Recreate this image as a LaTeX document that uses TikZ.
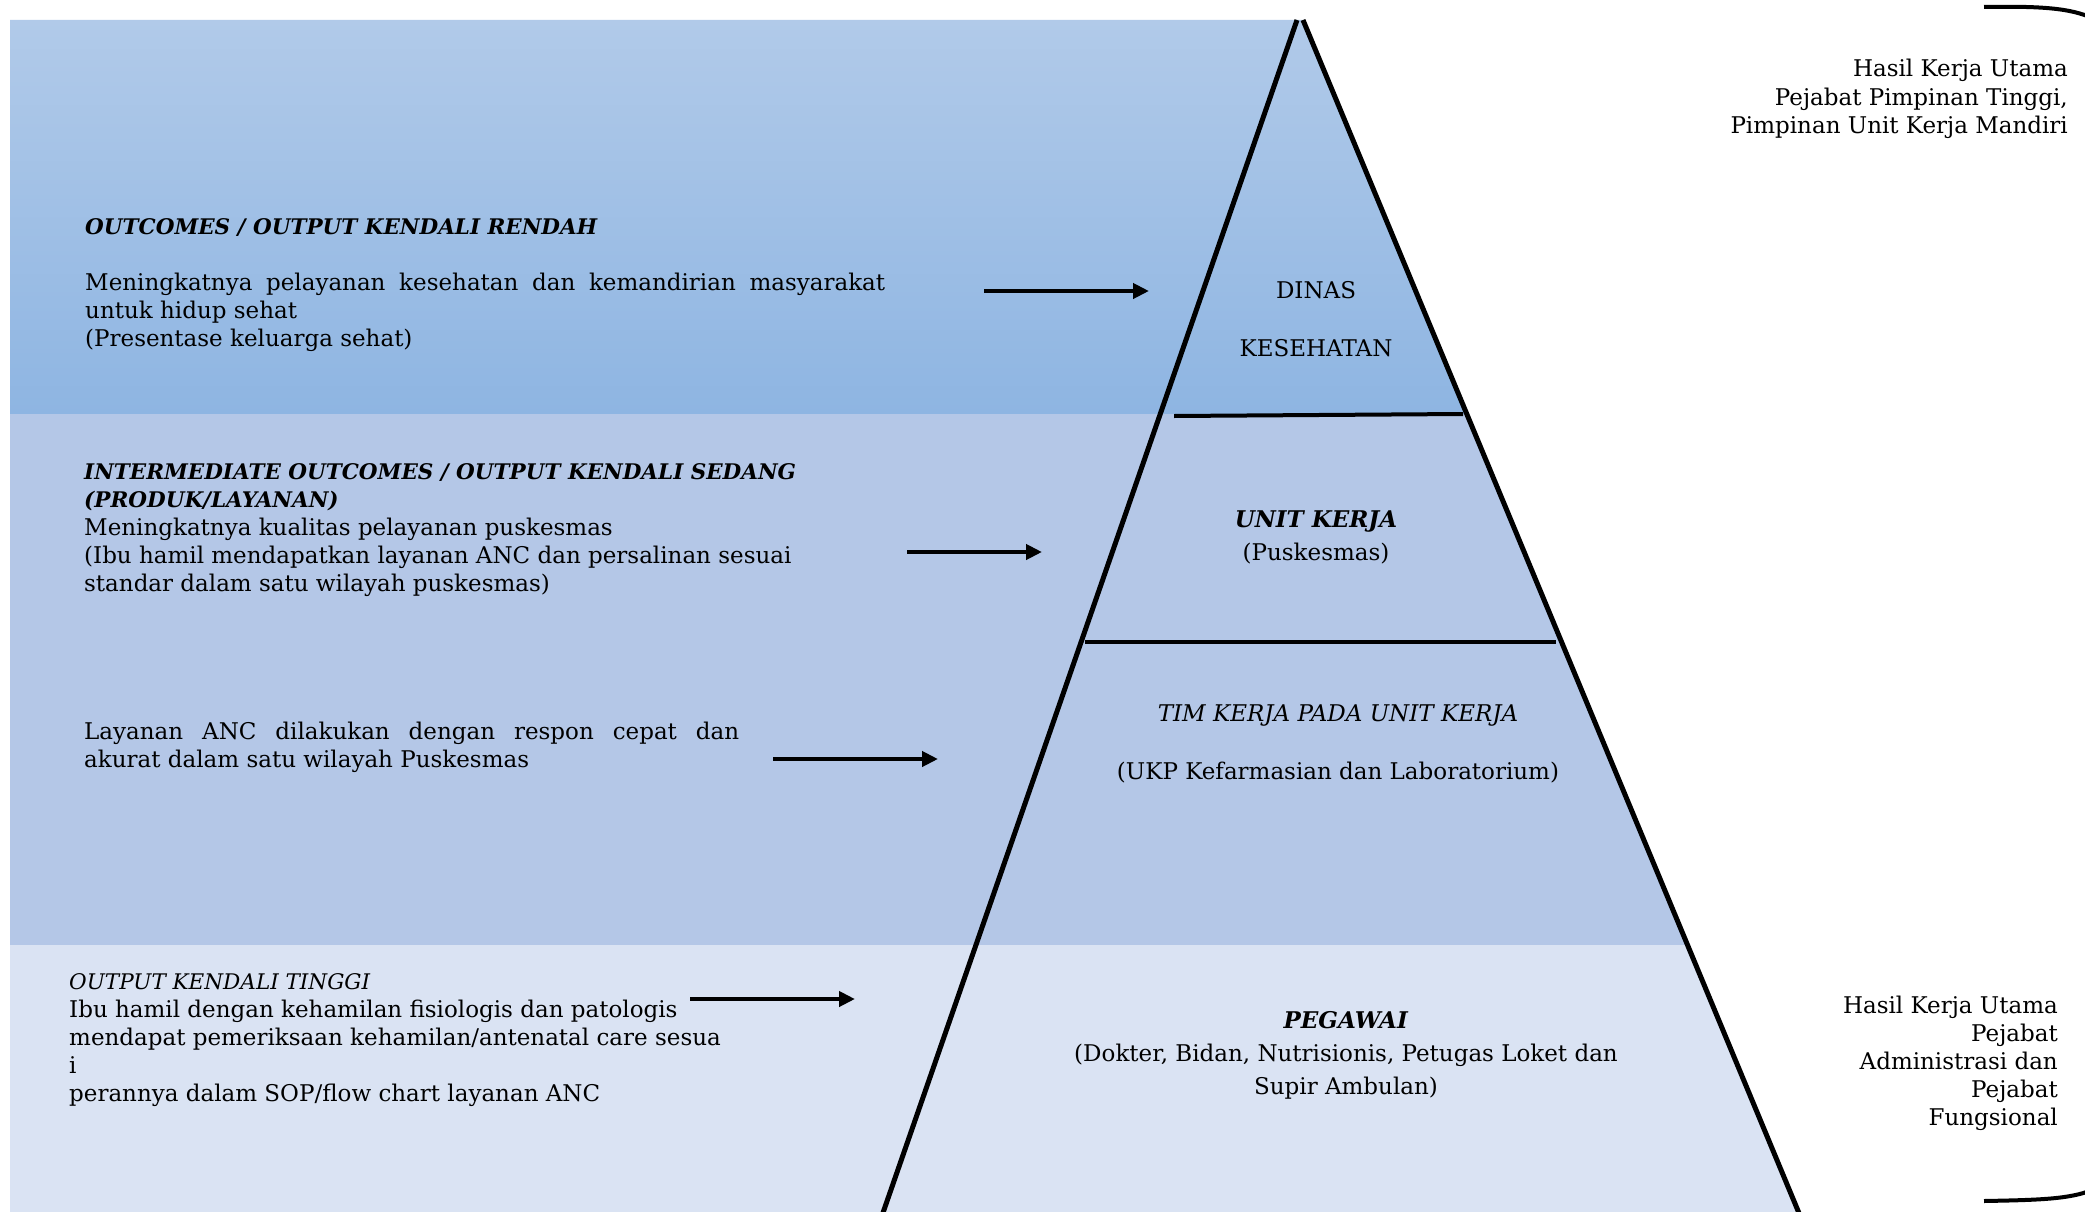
\documentclass[tikz,border=0pt]{standalone}
\usepackage{fontspec}
\setmainfont{DejaVu Serif}
\usetikzlibrary{arrows.meta}
\definecolor{bandtop}{HTML}{B1CAE9}
\definecolor{bandtopb}{HTML}{8EB5E2}
\definecolor{bandmid}{HTML}{B4C7E7}
\definecolor{bandlow}{HTML}{DAE3F3}
\newcommand{\mytitle}[1]{{\fontsize{21.5}{28}\selectfont\textbf{\textit{#1}}}}
\begin{document}
\begin{tikzpicture}[x=1pt,y=-1pt,
  txt/.style={inner sep=0pt, anchor=base west, align=left, font=\fontsize{23}{28}\selectfont},
  ctr/.style={inner sep=0pt, anchor=base, align=center, font=\fontsize{23}{33}\selectfont},
  rtxt/.style={inner sep=0pt, anchor=base east, align=right, font=\fontsize{23}{28.5}\selectfont},
  arr/.style={line width=4pt, -{Triangle[length=16pt,width=15pt]}},
  pyredge/.style={line width=5pt},
  divider/.style={line width=4pt}]
\useasboundingbox (0,0) rectangle (2085,1212);
\clip (0,0) rectangle (2085,1212);
% bands
\shade[top color=bandtop, bottom color=bandtopb] (10,20) -- (1303,20) -- (1466,414) -- (10,414) -- cycle;
\fill[bandmid] (10,414) -- (1466,414) -- (1687,945) -- (10,945) -- cycle;
\fill[bandlow] (10,945) -- (1687,945) -- (1810,1240) -- (10,1240) -- cycle;
% pyramid
\coordinate (apexL) at (1297,20);
\coordinate (apexR) at (1303,20);
\coordinate (baseL) at (877,1230);
\coordinate (baseR) at (1806,1230);
\draw[pyredge] (apexL) -- (baseL);
\draw[pyredge] (apexR) -- (baseR);
\coordinate (d1a) at (1174,416);
\coordinate (d1b) at (1463,414);
\coordinate (d2a) at (1085,642);
\coordinate (d2b) at (1556,642);
\draw[divider] (d1a) -- (d1b);
\draw[divider] (d2a) -- (d2b);
% left texts (anchored at the baseline of the last line)
\node[txt] (t1) at (85,346) {\mytitle{OUTCOMES / OUTPUT KENDALI RENDAH}\\[28pt]
  \makebox[800pt][s]{Meningkatnya pelayanan kesehatan dan kemandirian masyarakat}\\
  untuk hidup sehat\\
  (Presentase keluarga sehat)};
\node[txt] (t2) at (84,591) {\mytitle{INTERMEDIATE OUTCOMES / OUTPUT KENDALI SEDANG}\\
  \mytitle{(PRODUK/LAYANAN)}\\
  Meningkatnya kualitas pelayanan puskesmas\\
  (Ibu hamil mendapatkan layanan ANC dan persalinan sesuai\\
  standar dalam satu wilayah puskesmas)};
\node[txt] (t3) at (84,767) {\makebox[655pt][s]{Layanan ANC dilakukan dengan respon cepat dan}\\
  akurat dalam satu wilayah Puskesmas};
\node[txt] (t4) at (69,1101) {{\fontsize{21.5}{28}\selectfont\textit{OUTPUT KENDALI TINGGI}}\\
  Ibu hamil dengan kehamilan fisiologis dan patologis\\
  mendapat pemeriksaan kehamilan/antenatal care sesua\\
  i\\
  perannya dalam SOP/flow chart layanan ANC};
% pyramid texts
\node[ctr] (p1) at (1316,356) {DINAS\\[25pt]KESEHATAN};
\node[ctr] (p2) at (1316,560) {\textbf{\textit{UNIT KERJA}}\\(Puskesmas)};
\node[ctr] (p3) at (1338,779) {\textit{TIM KERJA PADA UNIT KERJA}\\[25pt](UKP Kefarmasian dan Laboratorium)};
\node[ctr] (p4) at (1346,1094) {\textbf{\textit{PEGAWAI}}\\(Dokter, Bidan, Nutrisionis, Petugas Loket dan\\Supir Ambulan)};
% right texts
\node[rtxt] (r1) at (2068,134) {Hasil Kerja Utama\\Pejabat Pimpinan Tinggi,\\Pimpinan Unit Kerja Mandiri};
\node[rtxt, font=\fontsize{23}{28}\selectfont] (r2) at (2058,1125) {Hasil Kerja Utama\\Pejabat\\Administrasi dan\\Pejabat\\Fungsional};
% arrows
\coordinate (a1s) at (984,291); \coordinate (a1e) at (1149,291);
\coordinate (a2s) at (907,552); \coordinate (a2e) at (1042,552);
\coordinate (a3s) at (773,759); \coordinate (a3e) at (938,759);
\coordinate (a4s) at (690,999); \coordinate (a4e) at (855,999);
\draw[arr] (a1s) -- (a1e);
\draw[arr] (a2s) -- (a2e);
\draw[arr] (a3s) -- (a3e);
\draw[arr] (a4s) -- (a4e);
% brace
\coordinate (bt1) at (1984,7); \coordinate (bt2) at (2092,18);
\coordinate (bb1) at (1984,1201); \coordinate (bb2) at (2092,1190);
\draw[line width=4pt] (bt1) .. controls (2040,6) and (2070,8) .. (bt2);
\draw[line width=4pt] (bb1) .. controls (2040,1200) and (2070,1199) .. (bb2);
\end{tikzpicture}
\end{document}
